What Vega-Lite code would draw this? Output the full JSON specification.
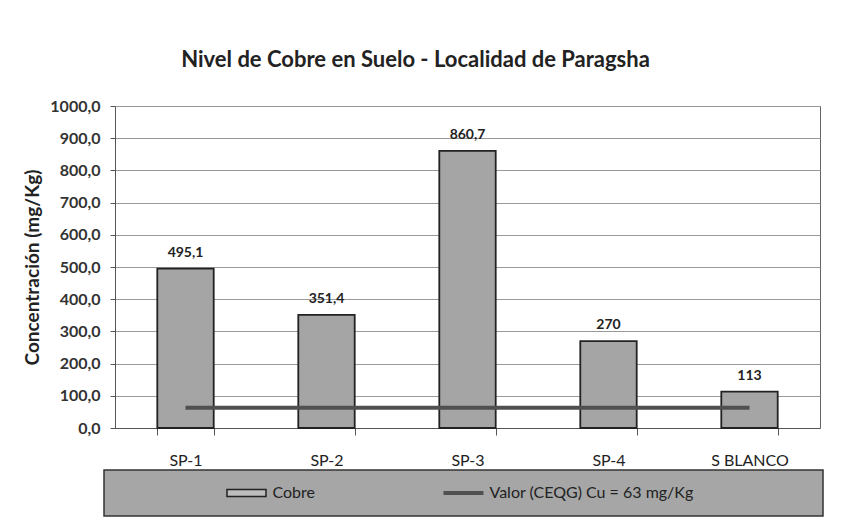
{
  "$schema": "https://vega.github.io/schema/vega-lite/v6.json",
  "width": 705,
  "height": 322,
  "autosize": {"type": "none"},
  "padding": {"left": 115, "top": 106, "right": 30, "bottom": 97},
  "background": "white",
  "title": {
    "text": "Nivel de Cobre en Suelo  -  Localidad de Paragsha",
    "font": "Lato", "fontSize": 22, "fontWeight": "bold", "color": "#222",
    "anchor": "middle", "dx": -52, "offset": 26
  },
  "data": {
    "values": [
      {"muestra": "SP-1", "cobre": 495.1, "label": "495,1", "ceqg": 63},
      {"muestra": "SP-2", "cobre": 351.4, "label": "351,4", "ceqg": 63},
      {"muestra": "SP-3", "cobre": 860.7, "label": "860,7", "ceqg": 63},
      {"muestra": "SP-4", "cobre": 270, "label": "270", "ceqg": 63},
      {"muestra": "S BLANCO", "cobre": 113, "label": "113", "ceqg": 63}
    ]
  },
  "encoding": {
    "x": {
      "field": "muestra", "type": "nominal", "sort": null,
      "scale": {"paddingInner": 0.6, "paddingOuter": 0.3},
      "axis": {
        "title": null, "labelAngle": 0, "labelFont": "Lato", "labelFontSize": 16,
        "labelColor": "#222", "tickBand": "extent", "tickSize": 7, "labelPadding": 17,
        "domainColor": "#555", "tickColor": "#555", "grid": false
      }
    }
  },
  "layer": [
    {
      "mark": {"type": "bar", "strokeWidth": 1.8, "fill": "#a5a5a5"},
      "encoding": {
        "y": {
          "field": "cobre", "type": "quantitative",
          "scale": {"domain": [0, 1000]},
          "axis": {
            "values": [0, 100, 200, 300, 400, 500, 600, 700, 800, 900, 1000],
            "labelExpr": "replace(format(datum.value, '.1f'), '.', ',')",
            "labelOverlap": false,
            "title": "Concentración (mg/Kg)"
          }
        },
        "stroke": {
          "datum": "Cobre", "type": "nominal",
          "scale": {"domain": ["Cobre", "Valor (CEQG) Cu = 63 mg/Kg"], "range": ["#222222", "#505050"]},
          "legend": {
            "orient": "none", "legendX": -11, "legendY": 364, "direction": "horizontal",
            "title": " ", "titleOrient": "right", "titlePadding": 114,
            "fillColor": "#a6a6a6", "strokeColor": "#333", "padding": 15,
            "symbolOffset": 119.5, "columnPadding": 20, "labelOffset": 18, "labelLimit": 400,
            "labelFont": "Lato", "labelFontSize": 16, "labelColor": "#222", "symbolSize": 400,
            "encoding": {
              "legend": {"strokeWidth": {"value": 1.5}},
              "symbols": {
                "shape": {"value": {"expr": "datum.value === 'Cobre' ? 'M-1.95,-0.35H1.95V0.35H-1.95Z' : 'M-2,0H2'"}},
                "fill": {"value": {"expr": "datum.value === 'Cobre' ? '#bdbdbd' : 'transparent'"}},
                "strokeWidth": {"value": {"expr": "datum.value === 'Cobre' ? 1.5 : 4"}},
                "opacity": {"value": 1}
              }
            }
          }
        }
      }
    },
    {
      "mark": {"type": "text", "dy": -9, "baseline": "bottom", "font": "Lato", "fontSize": 14, "fontWeight": "bold", "color": "#222"},
      "encoding": {
        "y": {
          "field": "cobre", "type": "quantitative",
          "axis": {
            "values": [0, 100, 200, 300, 400, 500, 600, 700, 800, 900, 1000],
            "labelExpr": "replace(format(datum.value, '.1f'), '.', ',')",
            "labelOverlap": false,
            "title": "Concentración (mg/Kg)"
          }
        },
        "text": {"field": "label"}
      }
    },
    {
      "mark": {"type": "line", "strokeWidth": 4},
      "encoding": {
        "y": {
          "field": "ceqg", "type": "quantitative",
          "axis": {
            "values": [0, 100, 200, 300, 400, 500, 600, 700, 800, 900, 1000],
            "labelExpr": "replace(format(datum.value, '.1f'), '.', ',')",
            "labelOverlap": false,
            "title": "Concentración (mg/Kg)"
          }
        },
        "stroke": {"datum": "Valor (CEQG) Cu = 63 mg/Kg", "type": "nominal"}
      }
    }
  ],
  "config": {
    "view": {"stroke": "#666"},
    "axisY": {
      "titleFont": "Lato", "titleFontSize": 19, "titleFontWeight": "bold", "titleColor": "#222",
      "titlePadding": 7,
      "labelFont": "Lato", "labelFontSize": 16, "labelFontWeight": "bold", "labelColor": "#333",
      "gridColor": "#999", "domainColor": "#555", "tickColor": "#555", "tickSize": 5, "labelPadding": 10
    }
  }
}
